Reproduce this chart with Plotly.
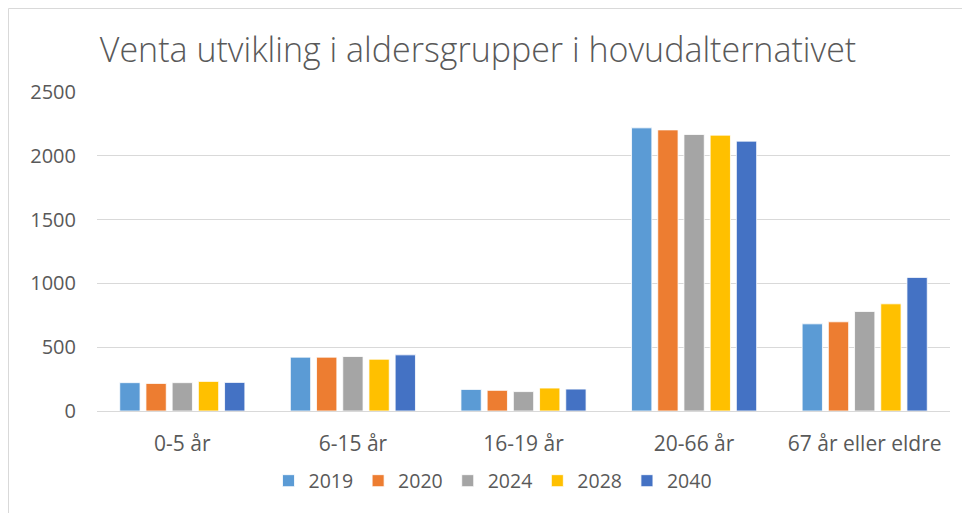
import plotly.graph_objects as go

categories = ["0-5 år", "6-15 år", "16-19 år", "20-66 år", "67 år eller eldre"]
years = ["2019", "2020", "2024", "2028", "2040"]
v2019 = [222, 422, 169, 2219, 683]
v2020 = [216, 422, 162, 2203, 699]
v2024 = [222, 427, 152, 2167, 780]
v2028 = [232, 406, 180, 2162, 840]
v2040 = [224, 440, 172, 2115, 1047]
series = [v2019, v2020, v2024, v2028, v2040]
colors = ["#5B9BD5", "#ED7D31", "#A5A5A5", "#FFC000", "#4472C4"]
yticks = [0, 500, 1000, 1500, 2000, 2500]

OFF = 8  # page body margin
W, H = 970, 513
# desired plot area in page pixels
PX0, PX1, PY0, PY1 = 97, 950, 92, 411
L = PX0 - OFF
T = PY0 - OFF
R = W - (PX1 - OFF)
B = H - (PY1 - OFF)
pw, ph = W - L - R, H - T - B

fig = go.Figure()
for name, vals, c in zip(years, series, colors):
    fig.add_trace(go.Bar(x=categories, y=vals, name=name,
                         marker=dict(color=c, line=dict(color="white", width=0.8))))

fig.update_layout(
    width=W, height=H,
    margin=dict(l=L, r=R, t=T, b=B),
    paper_bgcolor="white", plot_bgcolor="white",
    barmode="group", bargap=0.232, bargroupgap=0.225,
    font=dict(family="Open Sans", color="#595959", size=20),
    title=dict(text="Venta utvikling i aldersgrupper i hovudalternativet",
               x=(478 - OFF) / W, xref="container", xanchor="center",
               y=1 - (50 - OFF) / H, yref="container", yanchor="middle",
               font=dict(family="Open Sans", size=34, color="#595959", weight=300)),
    legend=dict(orientation="h", x=(493 - PX0) / pw, xanchor="center",
                y=(PY1 - 481) / ph, yanchor="middle",
                font=dict(size=19.5, color="#595959"),
                itemwidth=30, traceorder="normal"),
    showlegend=True,
)
fig.update_xaxes(showgrid=False, showline=False, ticks="", ticklabelstandoff=18,
                 tickfont=dict(size=21, color="#595959"))
fig.update_yaxes(range=[0, 2500], tickvals=yticks, showgrid=True, gridcolor="#D9D9D9",
                 gridwidth=1, zeroline=True, zerolinecolor="#D9D9D9", zerolinewidth=1,
                 showline=False, ticks="", ticklabelstandoff=20,
                 tickfont=dict(size=20, color="#595959"))
# chart-area border (page coords 8.5 -> figure coords 0.5)
fig.add_shape(type="rect", xref="paper", yref="paper",
              x0=(0.5 - L) / pw, x1=(W + 10 - L) / pw,
              y0=(T + ph - H - 10) / ph, y1=(T + ph - 0.5) / ph,
              line=dict(color="#D9D9D9", width=1), fillcolor="rgba(0,0,0,0)", layer="below")
fig.write_html("out.html")
